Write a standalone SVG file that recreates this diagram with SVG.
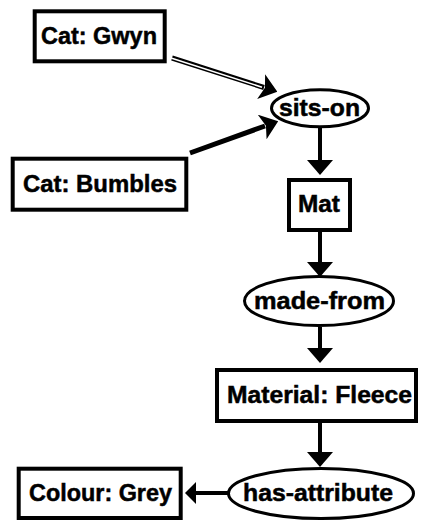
<svg xmlns="http://www.w3.org/2000/svg" width="421" height="521" viewBox="0 0 421 521">
<style>
.box{fill:#fff;stroke:#000;stroke-width:4}
.oval{fill:#fff;stroke:#000;stroke-width:3}
.lbl{font-family:"Liberation Sans",Arial,sans-serif;font-weight:bold;font-size:24px;fill:#000;stroke:#000;stroke-width:0.5;text-anchor:middle}
.ln{stroke:#000;stroke-width:4;fill:none}
.thick{stroke:#000;stroke-width:5;fill:none}
.dbl{stroke:#000;stroke-width:5;fill:none}
.dblin{stroke:#fff;stroke-width:1.6;fill:none}
</style>
<defs>
<marker id="head" viewBox="0 0 15 26" markerWidth="15" markerHeight="26" refX="0" refY="13" orient="auto" markerUnits="userSpaceOnUse">
<path d="M0,0 L15,13 L0,26 z" fill="#000"/>
</marker>
<marker id="headS" viewBox="0 0 11 22" markerWidth="11" markerHeight="22" refX="0" refY="11" orient="auto" markerUnits="userSpaceOnUse">
<path d="M0,0 L11,11 L0,22 z" fill="#000"/>
</marker>
<marker id="headN" viewBox="0 0 17 26" markerWidth="17" markerHeight="26" refX="3" refY="13" orient="auto" markerUnits="userSpaceOnUse">
<path d="M0,0 L17,13 L0,26 L4,13 z" fill="#000"/>
</marker>
</defs>
<g id="connectors">
<line class="dbl" x1="172" y1="58" x2="264" y2="87.5" marker-end="url(#headN)"/>
<line class="dblin" x1="171" y1="58" x2="262" y2="87.2"/>
<line class="thick" x1="190" y1="153" x2="265" y2="126" marker-end="url(#headN)"/>
<line class="ln" x1="320" y1="128" x2="320" y2="160" marker-end="url(#head)"/>
<line class="ln" x1="320" y1="232" x2="320" y2="262" marker-end="url(#head)"/>
<line class="ln" x1="320" y1="327" x2="320" y2="348" marker-end="url(#head)"/>
<line class="ln" x1="320" y1="422" x2="320" y2="452" marker-end="url(#head)"/>
<line class="ln" x1="228" y1="493" x2="196" y2="493" marker-end="url(#headS)"/>
</g>
<g id="cat-gwyn">
<rect class="box" x="34.7" y="11.3" width="130" height="50"/>
<text class="lbl" x="99" y="43.5" textLength="116" lengthAdjust="spacingAndGlyphs">Cat: Gwyn</text>
</g>
<g id="cat-bumbles">
<rect class="box" x="12.7" y="158.7" width="173.6" height="51"/>
<text class="lbl" x="100" y="192" textLength="154" lengthAdjust="spacingAndGlyphs">Cat: Bumbles</text>
</g>
<g id="sits-on">
<ellipse class="oval" cx="320" cy="108.3" rx="48.5" ry="18.5"/>
<text class="lbl" x="319.5" y="115.5" textLength="81" lengthAdjust="spacingAndGlyphs">sits-on</text>
</g>
<g id="mat">
<rect class="box" x="289" y="180" width="61" height="50"/>
<text class="lbl" x="319" y="212" textLength="42" lengthAdjust="spacingAndGlyphs">Mat</text>
</g>
<g id="made-from">
<ellipse class="oval" cx="319" cy="301" rx="74.5" ry="24.5"/>
<text class="lbl" x="319.5" y="308.5" textLength="131" lengthAdjust="spacingAndGlyphs">made-from</text>
</g>
<g id="material-fleece">
<rect class="box" x="217" y="370" width="199" height="51"/>
<text class="lbl" x="319.5" y="403" textLength="185" lengthAdjust="spacingAndGlyphs">Material: Fleece</text>
</g>
<g id="has-attribute">
<ellipse class="oval" cx="321" cy="493.5" rx="92.5" ry="25"/>
<text class="lbl" x="318" y="500.5" textLength="150" lengthAdjust="spacingAndGlyphs">has-attribute</text>
</g>
<g id="colour-grey">
<rect class="box" x="18.7" y="468.7" width="162" height="49.3"/>
<text class="lbl" x="100.5" y="500.5" textLength="143" lengthAdjust="spacingAndGlyphs">Colour: Grey</text>
</g>
</svg>
